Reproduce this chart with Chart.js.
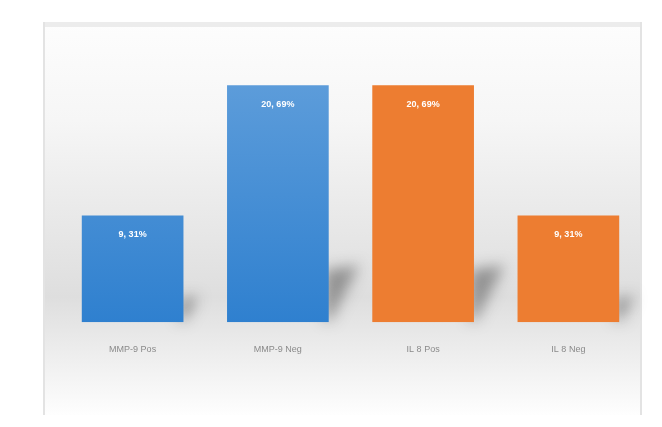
<!DOCTYPE html>
<html><head><meta charset="utf-8">
<script src="https://cdn.jsdelivr.net/npm/chart.js@4.4.1/dist/chart.umd.min.js"></script>
<style>html,body{margin:0;padding:0;background:#fff;}#wrap{width:662px;height:427px;}</style>
</head><body><div id="wrap"><canvas id="c" width="662" height="427"></canvas></div>
<script>
const categories = ["MMP-9 Pos", "MMP-9 Neg", "IL 8 Pos", "IL 8 Neg"];
const values = [9.31, 20.69, 20.69, 9.31];
const valueLabels = ["9, 31%", "20, 69%", "20, 69%", "9, 31%"];
const barKinds = ["blue", "blue", "orange", "orange"];

const panelPlugin = {
  id: 'panel',
  beforeDraw(chart) {
    const ctx = chart.ctx;
    ctx.save();
    ctx.fillStyle = '#ffffff';
    ctx.fillRect(0, 0, chart.width, chart.height);
    const g = ctx.createLinearGradient(0, 22, 0, 415);
    g.addColorStop(0, '#fdfdfd');
    g.addColorStop(0.25, '#f6f6f6');
    g.addColorStop(0.7, '#dedede');
    g.addColorStop(1, '#fefefe');
    ctx.fillStyle = g;
    ctx.fillRect(44, 22, 598, 393);
    ctx.fillStyle = '#ececec';
    ctx.fillRect(44, 22, 598, 5);
    ctx.fillStyle = '#e3e3e3';
    ctx.fillRect(43, 22, 2, 393);
    ctx.fillRect(640, 22, 2, 393);
    ctx.restore();
  },
  beforeDatasetsDraw(chart) {
    const ctx = chart.ctx;
    const meta = chart.getDatasetMeta(0);
    ctx.save();
    ctx.shadowColor = 'rgba(70,70,70,0.5)';
    ctx.shadowBlur = 14;
    ctx.shadowOffsetX = 2000;
    ctx.fillStyle = '#000';
    meta.data.forEach(bar => {
      const xR = bar.x + bar.width / 2 - 2000;
      const yB = bar.base;
      const h = yB - bar.y;
      ctx.beginPath();
      ctx.moveTo(xR - 4, yB - 2);
      ctx.lineTo(xR - 4, yB - 0.22 * h);
      ctx.lineTo(xR + 2 + 0.12 * h, yB - 0.24 * h);
      ctx.lineTo(xR + 2, yB - 2);
      ctx.closePath();
      ctx.fill();
    });
    ctx.restore();
  },
  afterDatasetsDraw(chart) {
    const ctx = chart.ctx;
    const meta = chart.getDatasetMeta(0);
    ctx.save();
    ctx.fillStyle = '#ffffff';
    ctx.font = 'bold 9px "Liberation Sans Narrow", "Liberation Sans", sans-serif';
    ctx.textAlign = 'center';
    ctx.textBaseline = 'middle';
    meta.data.forEach((bar, i) => {
      ctx.fillText(valueLabels[i], bar.x, bar.y + 19);
    });
    ctx.restore();
  }
};

const ctx = document.getElementById('c').getContext('2d');
function barColor(c) {
  const i = c.dataIndex;
  const chart = c.chart;
  if (barKinds[i] === 'orange') return '#ed7d31';
  const area = chart.chartArea;
  if (!area) return '#4a8fd4';
  const g = chart.ctx.createLinearGradient(0, 85, 0, area.bottom);
  g.addColorStop(0, '#5c9cda');
  g.addColorStop(1, '#2f80cf');
  return g;
}

new Chart(ctx, {
  type: 'bar',
  data: {
    labels: categories,
    datasets: [{
      data: values,
      backgroundColor: barColor,
      borderWidth: 0,
      barPercentage: 0.7,
      categoryPercentage: 1.0
    }]
  },
  options: {
    responsive: false,
    animation: false,
    devicePixelRatio: 1,
    layout: { padding: { left: 60, right: 21, top: 36, bottom: 50 } },
    plugins: { legend: { display: false }, tooltip: { enabled: false } },
    scales: {
      x: {
        grid: { display: false, drawTicks: false },
        border: { display: false },
        ticks: {
          padding: 22,
          color: '#8a8a8a',
          font: { family: '"Liberation Sans Narrow", "Liberation Sans", sans-serif', size: 9 }
        }
      },
      y: {
        display: false,
        min: 0,
        max: 25
      }
    }
  },
  plugins: [panelPlugin]
});
</script>
</body></html>
